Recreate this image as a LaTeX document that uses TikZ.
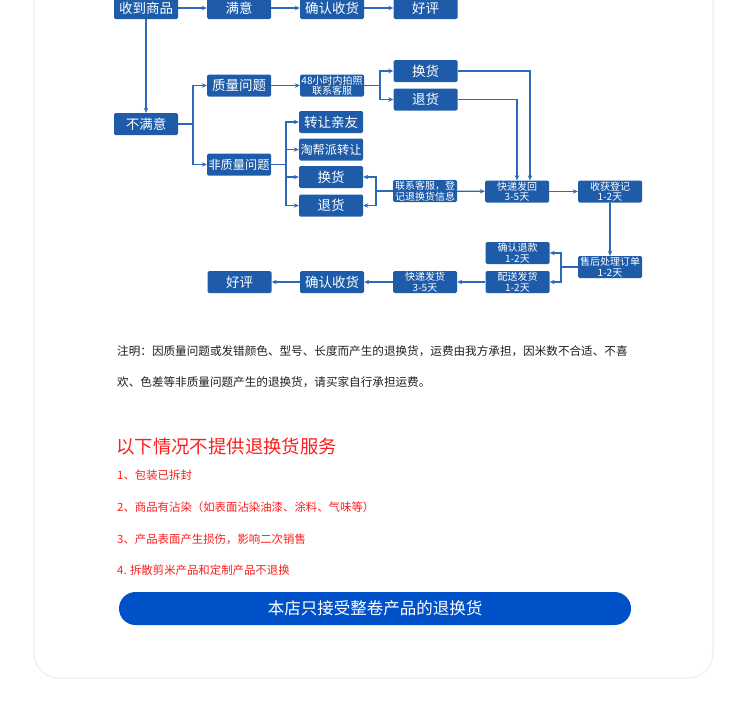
\documentclass[tikz,border=0pt]{standalone}
\usepackage{fontspec}
\setmainfont{Noto Sans CJK SC}
\usetikzlibrary{arrows.meta,positioning,calc}
\usepackage{xcolor}
\definecolor{boxcol}{RGB}{30,92,170}
\definecolor{linecol}{RGB}{45,105,185}
\definecolor{pillcol}{RGB}{0,80,200}
\definecolor{warncol}{RGB}{250,30,30}
\definecolor{cardcol}{RGB}{236,243,252}
\definecolor{notecol}{RGB}{30,30,30}

\begin{document}
\begin{tikzpicture}[
    x=1pt, y=-1pt,
    >={Stealth[length=5pt,width=4.5pt]},
    stepbox/.style={rectangle, rounded corners=1.5pt, fill=boxcol, text=white, minimum width=64pt, minimum height=22pt, inner sep=0pt, align=center, font=\fontsize{13.5}{14}\selectfont},
    smallbox/.style={stepbox, font=\fontsize{10}{10.5}\selectfont},
    midbox/.style={stepbox, font=\fontsize{12.2}{12.5}\selectfont},
    arrow/.style={->, linecol, line width=1.3pt},
    link/.style={linecol, line width=1.3pt},
    note/.style={anchor=west, inner sep=0pt, text=notecol, font=\fontsize{11.6}{12}\selectfont},
    warn/.style={anchor=west, inner sep=0pt, text=warncol, font=\fontsize{11.4}{12}\selectfont},
]
\useasboundingbox (0,0) rectangle (750,715);
\draw[cardcol, line width=1.5pt, rounded corners=25pt] (34,-40) rectangle (713,678);

\node[stepbox] (recv) at (146,8) {收到商品};
\node[stepbox] (ok) at (239,8) {满意};
\node[stepbox] (conf1) at (332,8) {确认收货};
\node[stepbox] (good1) at (425.5,8) {好评};

\node[stepbox] (unsat) at (146,124) {不满意};
\node[stepbox] (qual) at (239,85.5) {质量问题};
\node[smallbox] (photo) at (332,85.5) {48小时内拍照\\联系客服};
\node[stepbox] (exA) at (425.5,71) {换货};
\node[stepbox] (retA) at (425.5,99.5) {退货};

\node[midbox] (nonq) at (239,164.5) {非质量问题};
\node[stepbox] (trans) at (331,122) {转让亲友};
\node[midbox] (tbp) at (331,149.5) {淘帮派转让};
\node[stepbox] (exB) at (331,177) {换货};
\node[stepbox] (retB) at (331,205.5) {退货};
\node[smallbox] (contact) at (425,191) {联系客服，登\\记退换货信息};

\node[smallbox] (back) at (517,191.5) {快递发回\\3-5天};
\node[smallbox] (regst) at (610,191.5) {收获登记\\1-2天};
\node[smallbox] (after) at (610,267) {售后处理订单\\1-2天};
\node[smallbox] (refund) at (517.5,253) {确认退款\\1-2天};
\node[smallbox] (ship) at (517.5,282) {配送发货\\1-2天};
\node[smallbox] (exp) at (425,282) {快递发货\\3-5天};
\node[stepbox] (conf2) at (332,282) {确认收货};
\node[stepbox] (good2) at (239.5,282) {好评};

\coordinate (fork1) at (193,124);
\coordinate (fork2) at (380,85.5);
\coordinate (fork3) at (286,164.5);
\coordinate (fork4) at (376,191);
\coordinate (fork5) at (561,267);

\draw[arrow] (recv) -- (ok);
\draw[arrow] (ok) -- (conf1);
\draw[arrow] (conf1) -- (good1);
\draw[arrow] (recv) -- (unsat);

\draw[link] (unsat) -- (fork1);
\draw[arrow] (fork1) |- (qual);
\draw[arrow] (fork1) |- (nonq);
\draw[arrow] (qual) -- (photo);
\draw[link] (photo) -- (fork2);
\draw[arrow] (fork2) |- (exA);
\draw[arrow] (fork2) |- (retA);

\draw[link] (nonq) -- (fork3);
\draw[arrow] (fork3) |- (trans);
\draw[arrow] (fork3) |- (tbp);
\draw[arrow] (fork3) |- (exB);
\draw[arrow] (fork3) |- (retB);
\draw[arrow] (fork4) |- (exB);
\draw[arrow] (fork4) |- (retB);
\draw[link] (fork4) -- (contact);
\draw[arrow] (contact) -- (back);

\draw[arrow] (exA) -| ([xshift=13pt]back.north);
\draw[arrow] (retA) -| (back);
\draw[arrow] (back) -- (regst);
\draw[arrow] (regst) -- (after);
\draw[link] (after) -- (fork5);
\draw[arrow] (fork5) |- (refund);
\draw[arrow] (fork5) |- (ship);
\draw[arrow] (ship) -- (exp);
\draw[arrow] (exp) -- (conf2);
\draw[arrow] (conf2) -- (good2);

\node[note] (note1) at (117,351) {注明：因质量问题或发错颜色、型号、长度而产生的退换货，运费由我方承担，因米数不合适、不喜};
\node[note] (note2) at (117,382) {欢、色差等非质量问题产生的退换货，请买家自行承担运费。};

\node[anchor=west, inner sep=0pt, text=warncol, font=\fontsize{18.4}{19}\selectfont] (title) at (116,447) {以下情况不提供退换货服务};
\node[warn] (item1) at (117,475) {1、包装已拆封};
\node[warn] (item2) at (117,507) {2、商品有沾染（如表面沾染油漆、涂料、气味等）};
\node[warn] (item3) at (117,539) {3、产品表面产生损伤，影响二次销售};
\node[warn] (item4) at (117,570) {4. 拆散剪米产品和定制产品不退换};

\node[rectangle, rounded corners=16.5pt, fill=pillcol, text=white, minimum width=512pt, minimum height=33pt, inner sep=0pt, font=\fontsize{16.5}{17}\selectfont] (pill) at (375,608.5) {本店只接受整卷产品的退换货};
\end{tikzpicture}
\end{document}
